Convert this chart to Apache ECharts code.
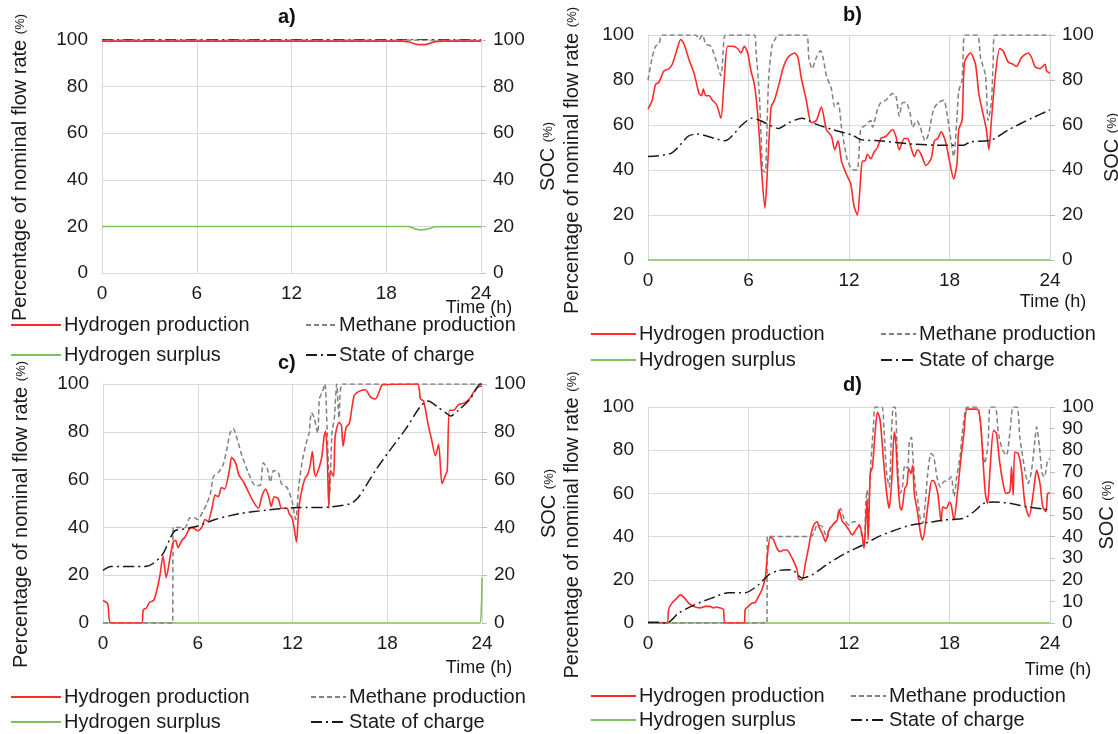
<!DOCTYPE html>
<html>
<head>
<meta charset="utf-8">
<script src="https://cdn.jsdelivr.net/npm/echarts@6/dist/echarts.min.js"></script>
<style>
  html, body { margin: 0; padding: 0; background: #fff; }
  #chart { width: 1118px; height: 734px; }
</style>
</head>
<body>
<div id="chart"></div>
<script>
// x ticks (h) and y ticks (%)
const timeTicks = [0, 6, 12, 18, 24];
const legendNames = ['Hydrogen production', 'Methane production', 'Hydrogen surplus', 'State of charge'];

// ---- panel a) ----
const aH2 = [[0,99.5],[19,99.5],[19.5,99],[20,98],[20.5,98],[21,99.2],[21.5,99.5],[24,99.5]];
const aCH4 = [[0,100],[24,100]];
const aSurplus = [[0,20],[19.4,20],[19.8,19],[20.2,18.5],[20.7,19],[21.1,19.8],[24,19.8]];
const aSOC = [[0,100.3],[24,100.3]];

// ---- panel b) ----
const bH2 = [[0,67],[0.25,71],[0.45,78],[0.65,79],[0.95,84],[1.25,85],[1.45,87],[1.75,94],[1.95,98],[2.15,96],[2.45,89],[2.75,83],[3.05,74],[3.2,73],[3.3,76],[3.45,73],[3.65,73],[3.85,71],[4.1,69],[4.35,63],[4.55,80],[4.75,95],[5.05,95],[5.35,94],[5.55,92],[5.75,95],[5.95,92],[6.15,84],[6.35,78],[6.55,65],[6.75,43],[6.98,23],[7.15,43],[7.35,68],[7.55,71],[7.85,79],[8.05,85],[8.35,90],[8.75,92],[8.95,90],[9.15,81],[9.45,71],[9.75,61],[10.05,62],[10.35,68],[10.65,58],[10.95,55],[11.15,49],[11.35,53],[11.55,44],[11.85,38],[12.1,34],[12.3,24],[12.5,20],[12.7,37],[12.8,44],[12.95,44],[13.1,47],[13.3,45],[13.5,48],[13.7,50],[13.9,54],[14.2,55],[14.6,58],[14.8,55],[15,49],[15.3,54],[15.5,54],[15.7,50],[15.9,46],[16.1,49],[16.3,47],[16.6,42],[16.9,45],[17.1,53],[17.3,54],[17.5,57],[17.75,53],[18,44],[18.25,36],[18.45,43],[18.55,58],[18.75,62],[18.9,88],[19.25,92],[19.55,87],[19.75,74],[20,65],[20.2,58],[20.35,49],[20.5,62],[20.75,83],[21,94],[21.2,93],[21.5,88],[21.8,87],[22,86],[22.3,90],[22.7,92],[22.9,90],[23.1,86],[23.4,85],[23.7,87],[23.8,84],[24,83]];
const bCH4 = [[0,80],[0.25,90],[0.45,95],[0.65,96],[0.85,100],[2.85,100],[3.05,98],[3.25,100],[3.45,96],[3.75,95],[4.05,89],[4.35,82],[4.55,99],[4.65,100],[6.35,100],[6.45,93],[6.65,73],[6.85,40],[7,39],[7.1,58],[7.2,80],[7.4,95],[7.65,99],[7.75,100],[9.45,100],[9.6,90],[9.8,85],[10.05,90],[10.3,93],[10.45,90],[10.65,82],[10.95,76],[11.15,68],[11.35,70],[11.55,59],[11.85,46],[12.1,41],[12.3,40],[12.5,40],[12.7,58],[13,60],[13.3,62],[13.4,59],[13.7,67],[13.9,70],[14.2,71],[14.6,74],[14.8,73],[15,64],[15.2,70],[15.4,70],[15.65,65],[15.8,59],[16.05,62],[16.25,59],[16.55,53],[16.75,56],[17.05,67],[17.35,70],[17.65,71],[17.85,65],[18.05,55],[18.25,46],[18.45,64],[18.55,75],[18.75,80],[18.85,98],[18.95,100],[19.65,100],[19.85,90],[20.15,82],[20.3,62],[20.5,70],[20.6,87],[20.7,100],[24,100]];
const bSurplus = [[0,0],[24,0]];
const bSOC = [[0,46],[1.4,47.5],[2.4,55],[2.9,56],[4.6,53],[5.6,60],[6.2,63],[6.7,62],[7.8,58.5],[8.4,61],[9.2,63],[10,60.5],[11,58],[12.2,55.5],[12.7,53.5],[13.8,53],[15.8,51.5],[17.75,51],[18.85,51],[19.25,52.5],[20.5,53.3],[21.5,57.8],[22.9,63],[24,66.7]];

// ---- panel c) ----
const cH2 = [[0,9.4],[0.3,8],[0.5,0],[2.45,0],[2.55,5.5],[2.75,6.3],[2.95,8.7],[3.2,9.4],[3.4,13.4],[3.6,19.7],[3.8,28],[4,19],[4.25,27.6],[4.45,34],[4.6,34.6],[4.75,31.5],[5,34.6],[5.2,36],[5.4,38.6],[5.6,40],[5.8,39.4],[6,38.6],[6.25,40],[6.45,43.3],[6.65,42.5],[6.9,48],[7.1,53.5],[7.3,52.8],[7.5,56.7],[7.7,56],[8,63.8],[8.15,69.3],[8.4,67],[8.6,62],[8.9,59],[9.2,55],[9.5,51],[9.85,48],[10.05,52.8],[10.3,56],[10.5,52.8],[10.65,48.8],[10.85,52.8],[11.1,52],[11.3,48],[11.65,48],[11.8,45.7],[11.97,44],[12.1,40],[12.25,33.9],[12.4,48],[12.6,56],[12.8,60.6],[12.95,62],[13.1,65.4],[13.26,71.7],[13.37,63.8],[13.47,61.4],[13.7,65.4],[13.85,69.3],[14,78],[14.1,80.3],[14.2,70],[14.3,48],[14.4,63.8],[14.6,61.4],[14.7,78],[14.95,84],[15.1,82.7],[15.2,74],[15.4,81.9],[15.6,83.5],[15.9,95],[16.2,96.9],[16.6,97.6],[16.95,94.5],[17.25,93.7],[17.5,96.9],[17.7,99.7],[19.9,100],[20.1,93.7],[20.3,92.9],[20.6,82.7],[20.8,77],[21.05,70],[21.25,74.8],[21.47,58.3],[21.7,62],[21.8,63.8],[21.94,89],[22.2,89],[22.5,91.3],[22.85,92],[23.2,93.7],[23.5,96.9],[23.75,98.7],[24,99.2]];
const cCH4 = [[0,0],[4.4,0],[4.45,40],[5.2,40],[5.5,44],[5.8,44],[6,43.3],[6.35,47],[6.55,49.6],[6.8,54],[7,61.4],[7.3,63],[7.6,66],[7.85,73],[8.05,79.5],[8.25,81.4],[8.45,78],[8.8,70],[9.2,63],[9.65,57.5],[9.95,57.5],[10.15,67],[10.4,64.6],[10.6,59],[10.8,63.8],[11.1,63],[11.3,58.3],[11.65,56.7],[11.97,51],[12.2,43.3],[12.4,57.5],[12.6,67],[12.85,74.8],[13.05,79.5],[13.2,88],[13.37,85.8],[13.6,79.5],[13.7,93.7],[13.9,96.9],[14.05,100],[14.2,79.5],[14.35,54],[14.5,79.5],[14.65,85.8],[14.8,100],[14.95,85.8],[15.15,100],[24,100]];
const cSurplus = [[0,0],[23.85,0],[23.95,5],[24,19]];
const cSOC = [[0,22],[0.5,23.6],[2.65,23.6],[3.2,25],[3.8,29],[4.25,35.4],[4.55,38.6],[5.2,39.4],[6,40.6],[7.1,43.3],[8.6,45.7],[10.3,47.2],[12,48.2],[13,48.3],[14.3,48.5],[15.7,50],[16.2,52.8],[17.25,63.8],[18.1,71.7],[19.15,81],[20.1,90.6],[20.6,92.9],[21.15,90.6],[21.7,88],[22,86.6],[22.5,89],[23.25,93.7],[23.9,100],[24,100]];

// ---- panel d) ----
const dH2 = [[0,0],[1.13,0],[1.23,6.2],[1.43,9.2],[1.73,11.5],[1.93,13],[2.13,12],[2.43,9.2],[2.72,7.7],[3.1,7],[3.42,7.7],[3.7,7.7],[3.9,7],[4.1,7.4],[4.3,7],[4.5,6.2],[4.6,0],[5.75,0],[5.8,6.2],[6,7.7],[6.2,9.2],[6.4,9.5],[6.6,12.3],[6.8,15.4],[7,20.8],[7.1,29],[7.3,39.7],[7.5,38.5],[7.7,34.6],[7.9,33],[8.1,33.8],[8.3,33.8],[8.5,31.5],[8.7,28.5],[8.9,24.6],[9,20.3],[9.2,20],[9.4,27.7],[9.6,35.4],[9.7,40],[9.9,45.4],[10.1,47],[10.2,44.6],[10.4,41.5],[10.6,37.7],[10.8,43],[11.1,46],[11.3,47.7],[11.4,52.3],[11.6,47],[11.8,45.4],[12,43],[12.2,40.8],[12.4,43],[12.63,45.4],[12.8,40],[12.9,34.6],[13,47.7],[13.08,57],[13.14,38.5],[13.27,69.2],[13.4,72.3],[13.57,89.2],[13.7,97.7],[13.86,93.8],[14.06,75.4],[14.25,60],[14.4,53],[14.55,66],[14.7,88.5],[14.8,83],[14.9,67.7],[15.04,53.8],[15.14,52.3],[15.33,62.3],[15.45,63.8],[15.57,71.5],[15.7,69.2],[15.8,73],[15.9,60],[16.1,50.8],[16.27,41.5],[16.4,38.5],[16.6,47.7],[16.8,60],[16.94,66],[17.1,65.4],[17.3,60],[17.5,47],[17.6,53.8],[17.8,53],[18,56],[18.1,54.6],[18.27,47.7],[18.47,60],[18.67,75.4],[18.86,87.7],[19.06,99],[19.65,99],[19.84,93.8],[20,75.4],[20.14,60],[20.27,55.4],[20.43,72.3],[20.63,89.2],[20.8,87.7],[20.98,75.4],[21.18,65.4],[21.37,60],[21.6,60.8],[21.7,72.3],[21.8,59.2],[21.9,79.2],[22.1,78.5],[22.3,70.8],[22.5,55.4],[22.75,49.2],[23,60],[23.2,70.8],[23.4,64.6],[23.57,53.8],[23.76,51.5],[23.86,60],[24,60.3]];
const dCH4 = [[0,0],[7.1,0],[7.12,40],[9.7,40],[9.9,41.5],[10.1,45.4],[10.4,44.6],[10.7,39.2],[10.9,44.6],[11.2,47],[11.5,53],[11.7,48.5],[12,45.4],[12.3,47],[12.6,45.4],[12.9,35.4],[13,55.4],[13.08,61.5],[13.14,41.5],[13.27,69.2],[13.47,92.3],[13.57,100],[13.96,100],[14.1,87.7],[14.25,69.2],[14.4,63],[14.55,90.8],[14.65,100],[14.75,100],[14.9,75.4],[15.04,60],[15.18,62.3],[15.33,73],[15.5,71.5],[15.6,83.8],[15.73,86],[15.8,78.5],[15.96,63],[16.1,57],[16.27,47.7],[16.4,46],[16.55,55.4],[16.7,69.2],[16.9,78.5],[17.06,77],[17.25,67.7],[17.45,63],[17.65,65.4],[17.9,66],[18.1,67.7],[18.27,58.5],[18.43,67.7],[18.63,77],[18.76,87.7],[18.96,99],[19.06,100],[19.65,100],[19.9,87.7],[20.1,73.8],[20.3,83],[20.43,100],[20.73,100],[20.92,87.7],[21.18,80],[21.4,77.7],[21.6,87.7],[21.8,100],[22.04,100],[22.2,86],[22.5,70.8],[22.7,64.6],[22.9,70.8],[23.1,84.6],[23.2,90.8],[23.37,81.5],[23.53,69.2],[23.67,67.7],[23.86,75.4],[24,76]];
const dSurplus = [[0,0],[24,0]];
const dSOC = [[0,0.3],[0.65,0.3],[1.13,0],[1.83,4.6],[2.8,8.5],[3.8,11.5],[4.8,14],[5.8,14],[6.6,17.7],[7.2,22.3],[7.8,24.3],[8.6,24.6],[9.2,20.8],[9.8,22.3],[10.8,27.7],[11.8,32.3],[12.8,36],[13.76,40],[14.75,43],[15.73,45.4],[16.7,46.5],[17.7,47.7],[18.86,48.5],[19.45,51.5],[20.04,55.4],[20.63,56],[21.6,55.4],[22.6,53.8],[23.57,52.8],[24,52.3]];

const FONT = '"Liberation Sans", Arial, sans-serif';
const TXT = '#1a1a1a';
const GRIDC = '#d9d9d9';

const panels = [
  { title: 'a)', titleX: 290, titleY: 18, grid: { left: 102, top: 40, width: 379, height: 233 }, socStep: 20,
    nameGapL: 72, nameGapR: 57, nameShift: 22,
    timeX: 479, timeY: 308, leg: { x1: 10, x2: 305, y1: 326, y2: 356, w1: 50, w2: 30 },
    data: [aH2, aCH4, aSurplus, aSOC] },
  { title: 'b)', titleX: 855, titleY: 16, grid: { left: 648, top: 35, width: 402, height: 225 }, socStep: 20,
    nameGapL: 66, nameGapR: 52, nameShift: 26,
    timeX: 1053, timeY: 302, leg: { x1: 590, x2: 880, y1: 335, y2: 361, w1: 45, w2: 35 },
    data: [bH2, bCH4, bSurplus, bSOC] },
  { title: 'c)', titleX: 290, titleY: 364, grid: { left: 103, top: 384, width: 379, height: 239 }, socStep: 20,
    nameGapL: 72, nameGapR: 57, nameShift: 22,
    timeX: 479, timeY: 668, leg: { x1: 10, x2: 310, y1: 698, y2: 723, w1: 50, w2: 35 },
    data: [cH2, cCH4, cSurplus, cSOC] },
  { title: 'd)', titleX: 855, titleY: 386, grid: { left: 648, top: 407, width: 402, height: 216 }, socStep: 10,
    nameGapL: 66, nameGapR: 46, nameShift: 20,
    timeX: 1058, timeY: 670, leg: { x1: 590, x2: 850, y1: 697, y2: 721, w1: 45, w2: 35 },
    data: [dH2, dCH4, dSurplus, dSOC] }
];

const styles = [
  { color: '#ff2a2a', type: 'solid', width: 1.6 },
  { color: '#808080', type: [5, 3], width: 1.5 },
  { color: '#7cc15a', type: 'solid', width: 1.5 },
  { color: '#1a1a1a', type: [11, 4, 2, 4], width: 1.5 }
];

const grids = [], xAxes = [], yAxes = [], series = [], legends = [], graphics = [];
const richP = { p: { fontSize: 13, color: TXT, fontFamily: FONT } };

panels.forEach((p, i) => {
  grids.push(Object.assign({ containLabel: false, outerBoundsMode: 'none' }, p.grid));
  xAxes.push({
    type: 'value', gridIndex: i, min: 0, max: 24, interval: 6,
    axisLine: { show: true, lineStyle: { color: GRIDC } },
    axisTick: { show: false },
    axisLabel: { fontSize: 19, color: TXT, fontFamily: FONT, margin: 11 },
    splitLine: { show: true, lineStyle: { color: GRIDC } }
  });
  yAxes.push({
    type: 'value', gridIndex: i, position: 'left', min: 0, max: 100, interval: 20,
    name: 'Percentage of nominal flow rate {p|(%)}', nameLocation: 'middle', nameRotate: 90, nameGap: p.nameGapL,
    nameTextStyle: { fontSize: 20, color: TXT, fontFamily: FONT, rich: richP, padding: [0, p.nameShift, 0, 0] },
    axisLine: { show: true, lineStyle: { color: GRIDC } },
    axisTick: { show: false },
    axisLabel: { fontSize: 19, color: TXT, fontFamily: FONT, margin: 14 },
    splitLine: { show: true, lineStyle: { color: GRIDC } }
  });
  yAxes.push({
    type: 'value', gridIndex: i, position: 'right', min: 0, max: 100, interval: p.socStep,
    name: 'SOC {p|(%)}', nameLocation: 'middle', nameRotate: 90, nameGap: p.nameGapR,
    nameTextStyle: { fontSize: 20, color: TXT, fontFamily: FONT, rich: richP },
    axisLine: { show: true, lineStyle: { color: GRIDC } },
    axisTick: { show: true, length: 5, lineStyle: { color: '#bfbfbf' } },
    axisLabel: { fontSize: 19, color: TXT, fontFamily: FONT, margin: 12 },
    splitLine: { show: false }
  });

  p.data.forEach((d, k) => {
    const s = styles[k];
    series.push({
      name: legendNames[k], type: 'line', xAxisIndex: i, yAxisIndex: k === 3 ? 2 * i + 1 : 2 * i,
      data: d, showSymbol: false, symbol: 'none', smooth: 0.25,
      lineStyle: { color: s.color, type: s.type, width: s.width },
      itemStyle: { color: s.color },
      z: [4, 3, 2, 5][k], animation: false
    });
  });

  const L = p.leg;
  const spots = [[L.x1, L.y1, L.w1], [L.x2, L.y1, L.w2], [L.x1, L.y2, L.w1], [L.x2, L.y2, L.w2]];
  spots.forEach((sp, k) => {
    legends.push({
      data: [legendNames[k]], left: sp[0], top: sp[1] - 11, itemWidth: sp[2], itemHeight: 14,
      itemGap: 0, padding: 0, selectedMode: false,
      itemStyle: { opacity: 0, borderWidth: 0 },
      textStyle: { fontSize: 20, color: TXT, fontFamily: FONT, padding: [0, 0, 0, -2] }
    });
  });

  graphics.push({
    type: 'text', left: p.titleX - 12, top: p.titleY - 11,
    style: { text: p.title, font: 'bold 20px ' + FONT, fill: '#111' }
  });
  graphics.push({
    type: 'text', x: p.timeX, y: p.timeY,
    style: { text: 'Time (h)', font: '18px ' + FONT, fill: TXT, align: 'center', verticalAlign: 'middle' }
  });
});

const chart = echarts.init(document.getElementById('chart'));
chart.setOption({
  animation: false,
  backgroundColor: '#fff',
  grid: grids, xAxis: xAxes, yAxis: yAxes, series: series, legend: legends, graphic: graphics
});
</script>
</body>
</html>
